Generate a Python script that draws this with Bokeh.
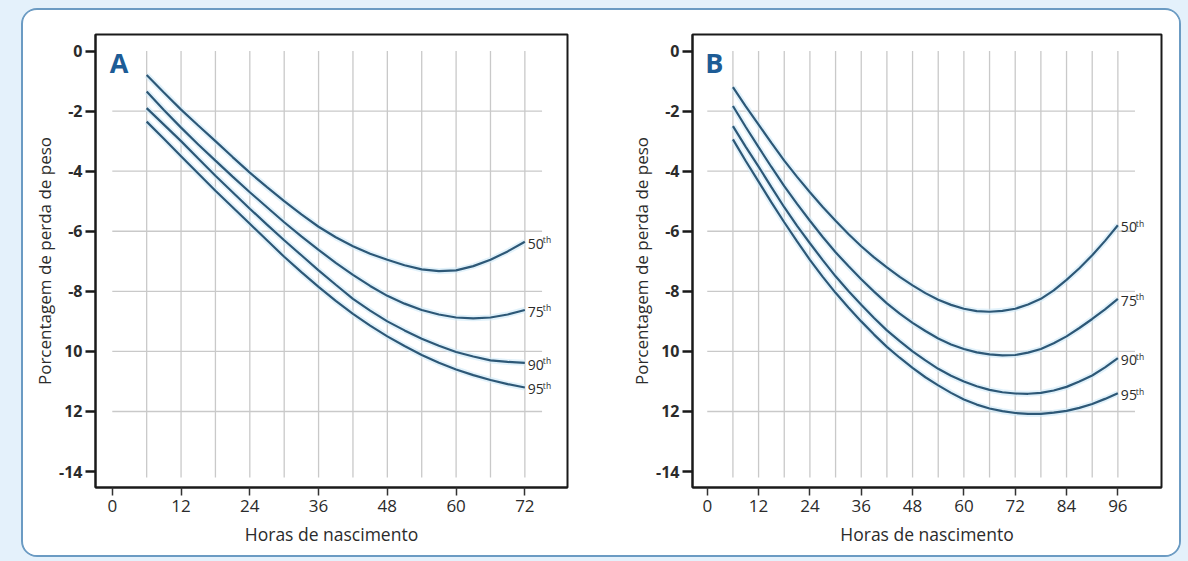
from bokeh.plotting import figure
from bokeh.layouts import row, column
from bokeh.models import FixedTicker, Range1d, Label
from bokeh.embed import file_html
from bokeh.resources import INLINE
from bokeh.core.properties import value

# ---------------- data ----------------
hours_a = [6, 9, 12, 15, 18, 21, 24, 27, 30, 33, 36, 39, 42, 45, 48, 51, 54, 57, 60, 63, 66, 69, 72]
a_p50 = [-0.8, -1.38, -1.95, -2.48, -3.0, -3.53, -4.05, -4.53, -5.0, -5.44, -5.85, -6.2,
         -6.5, -6.75, -6.95, -7.13, -7.27, -7.33, -7.3, -7.16, -6.95, -6.67, -6.35]
a_p75 = [-1.35, -1.96, -2.55, -3.11, -3.65, -4.18, -4.7, -5.2, -5.7, -6.17, -6.62, -7.05,
         -7.45, -7.82, -8.15, -8.41, -8.62, -8.77, -8.87, -8.9, -8.87, -8.77, -8.62]
a_p90 = [-1.9, -2.45, -3.0, -3.58, -4.15, -4.7, -5.25, -5.78, -6.3, -6.8, -7.3, -7.78,
         -8.25, -8.64, -9.0, -9.3, -9.58, -9.81, -10.02, -10.17, -10.3, -10.35, -10.38]
a_p95 = [-2.35, -2.92, -3.5, -4.08, -4.65, -5.2, -5.75, -6.3, -6.85, -7.36, -7.85, -8.32,
         -8.75, -9.14, -9.5, -9.82, -10.12, -10.38, -10.6, -10.79, -10.95, -11.09, -11.2]

hours_b = [6, 9, 12, 15, 18, 21, 24, 27, 30, 33, 36, 39, 42, 45, 48, 51, 54, 57, 60, 63,
           66, 69, 72, 75, 78, 81, 84, 87, 90, 93, 96]
b_p50 = [-1.2, -1.84, -2.45, -3.06, -3.65, -4.19, -4.7, -5.19, -5.65, -6.09, -6.5, -6.87,
         -7.2, -7.52, -7.8, -8.06, -8.28, -8.45, -8.58, -8.66, -8.68, -8.65, -8.58, -8.44,
         -8.25, -7.97, -7.62, -7.23, -6.8, -6.32, -5.8]
b_p75 = [-1.83, -2.53, -3.2, -3.86, -4.5, -5.09, -5.65, -6.19, -6.7, -7.16, -7.6, -8.01,
         -8.4, -8.74, -9.05, -9.32, -9.57, -9.77, -9.92, -10.03, -10.1, -10.13, -10.12,
         -10.04, -9.92, -9.73, -9.5, -9.22, -8.92, -8.6, -8.25]
b_p90 = [-2.5, -3.19, -3.85, -4.53, -5.2, -5.82, -6.4, -6.96, -7.5, -7.99, -8.45, -8.89,
         -9.3, -9.66, -10.0, -10.3, -10.58, -10.81, -11.0, -11.16, -11.28, -11.36, -11.4,
         -11.41, -11.38, -11.3, -11.18, -11.0, -10.8, -10.53, -10.22]
b_p95 = [-2.94, -3.66, -4.35, -5.04, -5.7, -6.34, -6.95, -7.52, -8.05, -8.54, -9.0, -9.44,
         -9.85, -10.21, -10.55, -10.86, -11.13, -11.38, -11.6, -11.77, -11.9, -11.99, -12.05,
         -12.08, -12.08, -12.04, -11.98, -11.88, -11.75, -11.58, -11.39]

percentiles = ["50", "75", "90", "95"]
y_ticks = [0, -2, -4, -6, -8, -10, -12, -14]
y_tick_labels = ["0", "-2", "-4", "-6", "-8", "10", "12", "-14"]
x_ticks_a = [0, 12, 24, 36, 48, 60, 72]
x_ticks_b = [0, 12, 24, 36, 48, 60, 72, 84, 96]
x_title = "Horas de nascimento"
y_title = "Porcentagem de perda de peso"

FONT = "Open Sans"
CURVE = "#2d5877"
GRID = "#c9c9c9"
TXT = "#2b2b2b"


def make_panel(letter, hours, series, x_ticks, x_range, hgrid_end,
               width, left, right):
    p = figure(width=width, height=545, output_backend="svg", toolbar_location=None,
               x_range=Range1d(*x_range), y_range=Range1d(-14.53, 0.55),
               min_border_left=left, min_border_right=right,
               min_border_top=24, min_border_bottom=68,
               background_fill_color="white", border_fill_color="white",
               outline_line_color="#1a1a1a", outline_line_width=2)
    p.grid.visible = False

    # grid lines (vertical every 6 h between 0 and -14, horizontal -2 .. -12)
    gx = hours[::2]
    p.segment(x0=gx, x1=gx, y0=[0] * len(gx), y1=[y_ticks[-1] - 0.2] * len(gx),
              line_color=GRID, line_width=1.3)
    inner_y = y_ticks[1:-1]
    p.segment(x0=[0] * len(inner_y), x1=[hgrid_end] * len(inner_y), y0=inner_y, y1=inner_y,
              line_color=GRID, line_width=1.3)

    for s in series:
        p.line(hours, s, line_color="#cfe9f8", line_width=6, line_alpha=0.6)
    for s in series:
        p.line(hours, s, line_color=CURVE, line_width=2.2)

    ends_x = [hours[-1]] * len(series)
    ends_y = [s[-1] for s in series]
    p.text(ends_x, ends_y, text=percentiles, x_offset=3, y_offset=2,
           text_font=value(FONT), text_font_size="14px", text_color=TXT,
           text_baseline="middle", text_align="left")
    p.text(ends_x, ends_y, text=["th"] * len(series), x_offset=18, y_offset=-2,
           text_font=value(FONT), text_font_size="8.5px", text_color=TXT,
           text_baseline="middle", text_align="left")

    p.add_layout(Label(x=-0.45, y=0.25, text=letter, text_font=FONT, text_font_size="27px",
                       text_font_style="bold", text_color="#1d5c96",
                       text_baseline="top", text_align="left"))

    # axes
    xa = p.xaxis[0]
    xa.ticker = FixedTicker(ticks=x_ticks)
    xa.axis_line_color = "#1a1a1a"
    xa.axis_line_width = 2
    xa.major_tick_out = 8
    xa.major_tick_in = 0
    xa.minor_tick_out = 0
    xa.major_tick_line_width = 1.5
    xa.major_tick_line_color = "#333333"
    xa.major_label_text_font = FONT
    xa.major_label_text_font_size = "17px"
    xa.major_label_text_color = TXT
    xa.major_label_standoff = 4
    xa.axis_label = x_title
    xa.axis_label_text_font = FONT
    xa.axis_label_text_font_size = "17.5px"
    xa.axis_label_text_font_style = "normal"
    xa.axis_label_text_color = TXT
    xa.axis_label_standoff = 7

    ya = p.yaxis[0]
    ya.ticker = FixedTicker(ticks=y_ticks)
    ya.major_label_overrides = {t: l for t, l in zip(y_ticks, y_tick_labels)}
    ya.axis_line_color = "#1a1a1a"
    ya.axis_line_width = 2
    ya.major_tick_out = 10
    ya.major_tick_in = 0
    ya.minor_tick_out = 0
    ya.major_tick_line_width = 2.5
    ya.major_tick_line_color = "#1a1a1a"
    ya.major_label_text_font = FONT
    ya.major_label_text_font_size = "16px"
    ya.major_label_text_font_style = "bold"
    ya.major_label_text_color = TXT
    ya.major_label_standoff = 3
    ya.axis_label = y_title
    ya.axis_label_text_font = FONT
    ya.axis_label_text_font_size = "17px"
    ya.axis_label_text_font_style = "normal"
    ya.axis_label_text_color = TXT
    ya.axis_label_standoff = 0
    return p


pA = make_panel("A", hours_a, [a_p50, a_p75, a_p90, a_p95], x_ticks_a,
                (-2.93, 79.44), 75, 604, 72, 60)
pB = make_panel("B", hours_b, [b_p50, b_p75, b_p90, b_p95], x_ticks_b,
                (-3.45, 106.2), 100, 552, 60, 18)

panel = row(pA, pB, styles={"background-color": "white", "border": "2px solid #6b9bc3",
                             "border-radius": "16px", "overflow": "hidden"})
panel.margin = (8, 0, 0, 21)
outer = column(panel, width=1188, height=561, styles={"background-color": "#e4f1fb"})

open("out.html", "w").write(file_html(outer, INLINE))
